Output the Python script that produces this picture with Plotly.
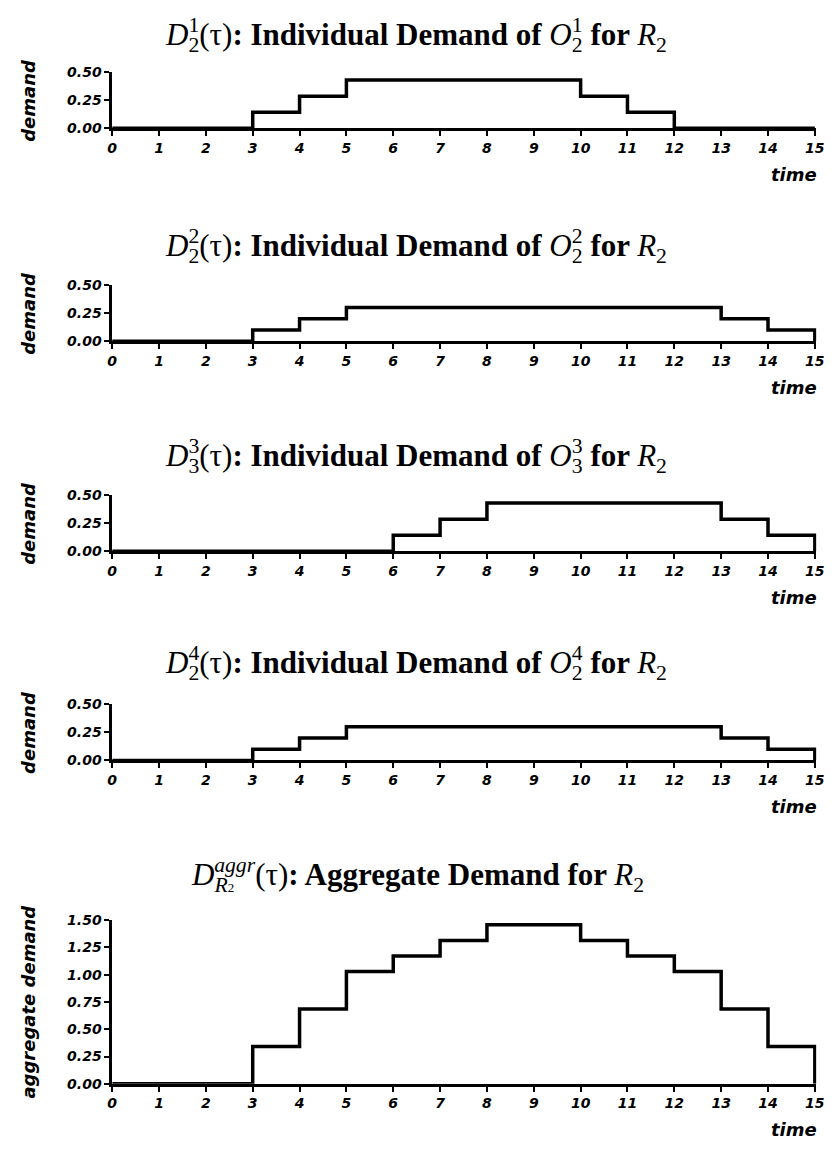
import plotly.graph_objects as go

# ---- data ----
time_ticks = list(range(16))  # 0..15
demand_O1 = [0, 0, 0, 0.143, 0.286, 0.429, 0.429, 0.429, 0.429, 0.429, 0.286, 0.143, 0, 0, 0]
demand_O2 = [0, 0, 0, 0.1, 0.2, 0.3, 0.3, 0.3, 0.3, 0.3, 0.3, 0.3, 0.3, 0.2, 0.1]
demand_O3 = [0, 0, 0, 0, 0, 0, 0.143, 0.286, 0.429, 0.429, 0.429, 0.429, 0.429, 0.286, 0.143]
demand_O4 = [0, 0, 0, 0.1, 0.2, 0.3, 0.3, 0.3, 0.3, 0.3, 0.3, 0.3, 0.3, 0.2, 0.1]
aggregate = [0, 0, 0, 0.343, 0.686, 1.029, 1.171, 1.314, 1.457, 1.457, 1.314, 1.171, 1.029, 0.686, 0.343]

ind_ticks = [0, 0.25, 0.5]
agg_ticks = [0, 0.25, 0.5, 0.75, 1.0, 1.25, 1.5]

W, H = 840, 1150
TS = 31  # title font size
SUBW = round(0.5 * 0.7 * TS, 1)


def stack(sub, sup, back):
    return (f'<sub><span style="letter-spacing:-{back}px">{sub}</span></sub>'
            f'<sup>{sup}</sup>')


def ind_title(j, k):
    return ('<i>D</i>' + stack(j, k, SUBW) + '(τ)<b>: Individual Demand of </b>'
            + '<i>O</i>' + stack(j, k, SUBW) + '<b> for </b><i>R</i><sub>2</sub>')


titles = [
    ind_title('2', '1'),
    ind_title('2', '2'),
    ind_title('3', '3'),
    ind_title('2', '4'),
    ('<i>D</i><sub><i>R</i><span style="font-size:13px;letter-spacing:-20px">2</span></sub>'
     '<sup><i>aggr</i></sup>(τ)<b>: Aggregate Demand for </b><i>R</i><sub>2</sub>'),
]
series = [demand_O1, demand_O2, demand_O3, demand_O4, aggregate]
ylabels = ['demand'] * 4 + ['aggregate demand']
ymax = [0.5, 0.5, 0.5, 0.5, 1.5]
yticks = [ind_ticks] * 4 + [agg_ticks]

# pixel layout (top of y range, bottom of y range) and title offsets
px_rows = [(65, 122), (281, 338), (494, 551), (706, 763), (925, 1091)]
title_shift = [37, 39, 39, 41, 45]
title_x = [418, 418, 418, 418, 419]
x_left, x_right = 109, 825

fig = go.Figure()
tickfont = dict(family='DejaVu Sans', size=14, color='black', weight='bold', style='italic')
labfont = dict(family='DejaVu Sans', size=18, color='black', weight='bold', style='italic')

for n in range(5):
    idx = '' if n == 0 else str(n + 1)
    vals = series[n]
    xs = time_ticks[:-1] + [time_ticks[-1], time_ticks[-1]]
    ys = vals + [vals[-1], 0]
    fig.add_trace(go.Scatter(x=xs, y=ys, mode='lines', line_shape='hv',
                             line=dict(color='black', width=3.5),
                             xaxis='x' + idx, yaxis='y' + idx, showlegend=False,
                             hoverinfo='skip'))
    top, bot = px_rows[n]
    fig.layout['xaxis' + idx] = dict(
        domain=[x_left / W, x_right / W], anchor='y' + idx,
        range=[0, 15.03], tickvals=time_ticks, ticks='outside', ticklen=5,
        tickwidth=2, tickcolor='black', showline=True, linewidth=2.5, linecolor='black',
        showgrid=False, zeroline=False, tickfont=tickfont, fixedrange=True)
    fig.layout['yaxis' + idx] = dict(
        domain=[1 - bot / H, 1 - top / H], anchor='x' + idx,
        range=[0, ymax[n]], tickvals=yticks[n], tickformat='.2f', ticks='outside',
        ticklen=5, tickwidth=2, tickcolor='black', showline=True, linewidth=2.5,
        linecolor='black', showgrid=False, zeroline=False, tickfont=tickfont,
        fixedrange=True)
    yd = 'y' + idx + ' domain'
    fig.add_annotation(text=titles[n], xref='paper', x=title_x[n] / W, yref=yd, y=1,
                       yshift=title_shift[n], showarrow=False, xanchor='center',
                       yanchor='middle',
                       font=dict(family='Liberation Serif', size=TS, color='black'))
    fig.add_annotation(text='time', xref='paper', x=828 / W, yref=yd, y=0,
                       yshift=-46, showarrow=False, xanchor='right', yanchor='middle',
                       font=labfont)
    fig.add_annotation(text=ylabels[n], xref='paper', x=24 / W, yref=yd, y=0.5,
                       showarrow=False, textangle=-90, xanchor='center',
                       yanchor='middle', font=labfont)

fig.update_layout(width=W, height=H, margin=dict(l=0, r=0, t=0, b=0),
                  plot_bgcolor='white', paper_bgcolor='white')
fig.write_html('out.html')
